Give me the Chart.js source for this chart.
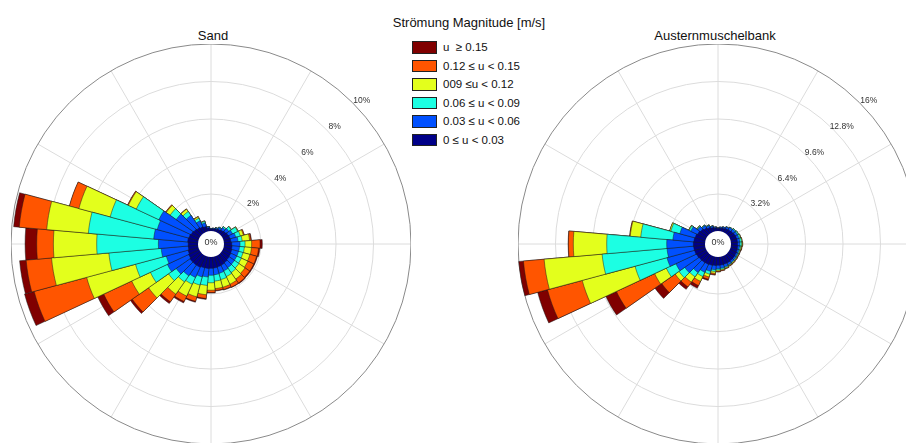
<!DOCTYPE html>
<html><head><meta charset="utf-8">
<script src="https://cdn.jsdelivr.net/npm/chart.js@4.4.1/dist/chart.umd.min.js"></script>
<style>
html,body{margin:0;padding:0}
body{width:906px;height:443px;overflow:hidden;background:#fff;position:relative;font-family:"Liberation Sans",Arial,Helvetica,sans-serif;color:#111}
canvas{position:absolute}
#sand{left:11px;top:44px}
#auster{left:518px;top:44px}
.t{position:absolute;font-size:13px;line-height:13px;white-space:nowrap;transform:translateX(-50%)}
#legend{position:absolute;left:412px;top:41px}
.row{position:absolute;left:0;height:12px;white-space:pre;font-size:11.5px;line-height:12px}
.box{position:absolute;left:0;top:0;width:23px;height:10.5px;border:0.8px solid #222}
.lab{position:absolute;left:31px;top:0}
</style></head><body>
<div class="t" style="left:213px;top:29px">Sand</div>
<div class="t" style="left:715px;top:29px">Austernmuschelbank</div>
<div class="t" style="left:469px;top:16px">Strömung Magnitude [m/s]</div>
<div id="legend"></div>
<canvas id="sand" width="400" height="400"></canvas>
<canvas id="auster" width="400" height="400"></canvas>
<script>
// direction bins (degrees, clockwise from north, bin centres)
const directions = [0,10,20,30,40,50,60,70,80,90,100,110,120,130,140,150,160,170,180,190,200,210,220,230,240,250,260,270,280,290,300,310,320,330,340,350];

const classLabels = ["0 ≤ u < 0.03","0.03 ≤ u < 0.06","0.06 ≤ u < 0.09","009 ≤u < 0.12","0.12 ≤ u < 0.15","u  ≥ 0.15"];
const classColors = ["#000088","#0050ff","#1cffe3","#e3ff1c","#ff5500","#800000"];

// Sand: frequency [%] per class and direction
const sandU000 = [0.13,0.15,0.17,0.20,0.25,0.30,0.35,0.38,0.40,0.44,0.46,0.48,0.50,0.52,0.55,0.58,0.60,0.62,0.63,0.64,0.65,0.70,0.70,0.70,0.65,0.60,0.55,0.55,0.58,0.55,0.50,0.45,0.40,0.35,0.30,0.20];
const sandU003 = [0.03,0.03,0.05,0.10,0.15,0.20,0.25,0.32,0.38,0.44,0.40,0.37,0.35,0.34,0.33,0.34,0.35,0.36,0.37,0.46,0.50,0.60,0.70,0.90,1.25,1.20,1.45,1.59,1.82,1.75,1.90,1.15,0.80,0.35,0.20,0.06];
const sandU006 = [0,0,0.02,0.03,0.07,0.15,0.30,0.25,0.22,0.27,0.26,0.25,0.27,0.29,0.32,0.33,0.35,0.34,0.40,0.45,0.45,0.40,0.40,0.50,1.00,1.70,2.80,3.29,3.50,2.60,1.33,0.40,0.25,0.15,0.08,0.01];
const sandU009 = [0,0,0,0,0,0.02,0.03,0.17,0.40,0.35,0.38,0.38,0.38,0.40,0.42,0.45,0.42,0.40,0.40,0.50,0.65,0.70,0.80,1.30,1.10,2.70,3.07,2.31,2.23,1.73,0.47,0.25,0.15,0.08,0.03,0];
const sandU012 = [0,0,0,0,0,0,0,0.05,0.07,0.45,0.38,0.37,0.35,0.30,0.26,0.18,0.13,0.10,0.12,0.20,0.25,0.32,0.50,1.06,1.65,2.90,1.36,0.89,1.47,0.52,0.04,0.04,0.02,0.02,0,0];
const sandU015 = [0,0,0,0,0,0,0,0,0.03,0.12,0.07,0.05,0.05,0.05,0.04,0.02,0.03,0.03,0.03,0.05,0.05,0.08,0.11,0.12,0.35,0.53,0.35,0.62,0.30,0,0,0,0,0,0,0];

// Austernmuschelbank: frequency [%] per class and direction
const austerU000 = [0.27,0.30,0.35,0.40,0.45,0.50,0.55,0.58,0.60,0.60,0.62,0.64,0.66,0.68,0.70,0.72,0.73,0.74,0.75,0.78,0.82,0.85,0.88,0.90,0.95,1.00,1.02,1.04,1.00,0.95,0.85,0.75,0.62,0.50,0.40,0.32];
const austerU003 = [0.03,0.08,0.10,0.15,0.20,0.22,0.20,0.20,0.20,0.20,0.16,0.14,0.14,0.14,0.15,0.18,0.22,0.26,0.30,0.37,0.53,0.75,1.02,1.50,1.95,2.44,2.28,2.27,1.80,1.35,0.65,0.30,0.23,0.18,0.12,0.06];
const austerU006 = [0,0,0,0.02,0.05,0.08,0.10,0.12,0.15,0.15,0.10,0.07,0.06,0.06,0.05,0.05,0.07,0.10,0.10,0.15,0.25,0.40,0.45,0.60,0.90,2.82,5.56,5.12,2.75,0.80,0.15,0.07,0.05,0.04,0.03,0.02];
const austerU009 = [0,0,0,0,0,0,0.02,0.05,0.05,0.07,0.07,0.05,0.04,0.05,0.06,0.05,0.06,0.07,0.09,0.15,0.25,0.45,0.55,0.40,1.10,4.67,4.97,2.85,0.90,0.10,0.05,0.03,0.02,0.02,0,0];
const austerU012 = [0,0,0,0,0,0,0,0,0,0.02,0.03,0.03,0.03,0.03,0.04,0.04,0.04,0.05,0.06,0.10,0.20,0.40,0.50,1.40,3.60,3.07,1.77,0.42,0.05,0,0,0,0,0,0,0];
const austerU015 = [0,0,0,0,0,0,0,0,0,0,0.02,0.02,0.02,0.02,0.02,0.02,0.02,0.02,0.02,0.05,0.10,0.25,0.26,0.70,1.00,0.87,0.40,0.02,0,0,0,0,0,0,0,0];

// radial tick labels
const sandTicks = [0,2,4,6,8,10];
const sandTickLabels = ["0%","2%","4%","6%","8%","10%"];
const austerTicks = [0,3.2,6.4,9.6,12.8,16];
const austerTickLabels = ["0%","3.2%","6.4%","9.6%","12.8%","16%"];

// legend (HTML, top entry = highest class)
const lg = document.getElementById('legend');
for (let k = 5; k >= 0; k--) {
  const i = 5 - k;
  const row = document.createElement('div');
  row.className = 'row';
  row.style.top = (i * 18.5) + 'px';
  row.innerHTML = '<div class="box" style="background:' + classColors[k] + '"></div><div class="lab"></div>';
  row.querySelector('.lab').textContent = classLabels[k];
  lg.appendChild(row);
}

const HOLE_PX = 12.5;
const FONT = '"Liberation Sans", Arial, sans-serif';

function rosePlugin(tickVals, tickLabels) {
  return {
    id: 'rose',
    beforeDatasetsDraw(chart) {
      const s = chart.scales.r, ctx = chart.ctx;
      const R = s.getDistanceFromCenterForValue(s.max);
      ctx.save();
      ctx.strokeStyle = '#dcdcdc';
      ctx.lineWidth = 1;
      for (let a = 0; a < 360; a += 30) {
        const t = a * Math.PI / 180;
        ctx.beginPath();
        ctx.moveTo(s.xCenter, s.yCenter);
        ctx.lineTo(s.xCenter + R * Math.sin(t), s.yCenter - R * Math.cos(t));
        ctx.stroke();
      }
      ctx.strokeStyle = '#8a8a8a';
      ctx.beginPath();
      ctx.arc(s.xCenter, s.yCenter, R, 0, Math.PI * 2);
      ctx.stroke();
      ctx.restore();
    },
    afterDatasetsDraw(chart) {
      const s = chart.scales.r, ctx = chart.ctx;
      const r0 = s.getDistanceFromCenterForValue(0);
      ctx.save();
      ctx.fillStyle = '#fff';
      ctx.beginPath();
      ctx.arc(s.xCenter, s.yCenter, r0 + 0.5, 0, Math.PI * 2);
      ctx.fill();
      ctx.fillStyle = '#333';
      ctx.font = '9px ' + FONT;
      ctx.textAlign = 'center';
      ctx.textBaseline = 'middle';
      ctx.fillText(tickLabels[0], s.xCenter, s.yCenter - 1);
      ctx.font = '8.5px ' + FONT;
      const ang = 46.5 * Math.PI / 180;
      for (let i = 1; i < tickVals.length; i++) {
        const d = s.getDistanceFromCenterForValue(tickVals[i]) + 8;
        ctx.fillText(tickLabels[i], s.xCenter + d * Math.sin(ang), s.yCenter - d * Math.cos(ang));
      }
      ctx.restore();
    }
  };
}

function makeRose(id, classes, tickVals, tickLabels) {
  const maxV = tickVals[tickVals.length - 1];
  const minV = -HOLE_PX * maxV / (200 - HOLE_PX);
  let run = directions.map(() => 0);
  const datasets = classes.map((arr, k) => {
    run = run.map((v, i) => v + arr[i]);
    return {
      label: classLabels[k],
      data: run.slice(),
      backgroundColor: classColors[k],
      borderColor: 'rgba(25,25,25,0.8)',
      borderWidth: 0.6
    };
  });
  return new Chart(document.getElementById(id), {
    type: 'polarArea',
    data: { labels: directions.map(d => d + '°'), datasets },
    options: {
      responsive: false,
      animation: false,
      events: [],
      layout: { padding: 0 },
      plugins: { legend: { display: false }, tooltip: { enabled: false } },
      scales: {
        r: {
          min: minV, max: maxV, startAngle: -5, bounds: 'data',
          afterBuildTicks: sc => { sc.ticks = tickVals.map(v => ({ value: v })); },
          ticks: { display: false },
          grid: {
            circular: true,
            color: c => (c.tick && c.tick.value === 0) ? 'rgba(0,0,0,0)' : ((c.tick && c.tick.value === maxV) ? 'rgba(0,0,0,0)' : '#dcdcdc'),
            lineWidth: 1
          },
          angleLines: { display: false },
          pointLabels: { display: false }
        }
      }
    },
    plugins: [rosePlugin(tickVals, tickLabels)]
  });
}

makeRose('sand', [sandU000, sandU003, sandU006, sandU009, sandU012, sandU015], sandTicks, sandTickLabels);
makeRose('auster', [austerU000, austerU003, austerU006, austerU009, austerU012, austerU015], austerTicks, austerTickLabels);
</script>
</body></html>
